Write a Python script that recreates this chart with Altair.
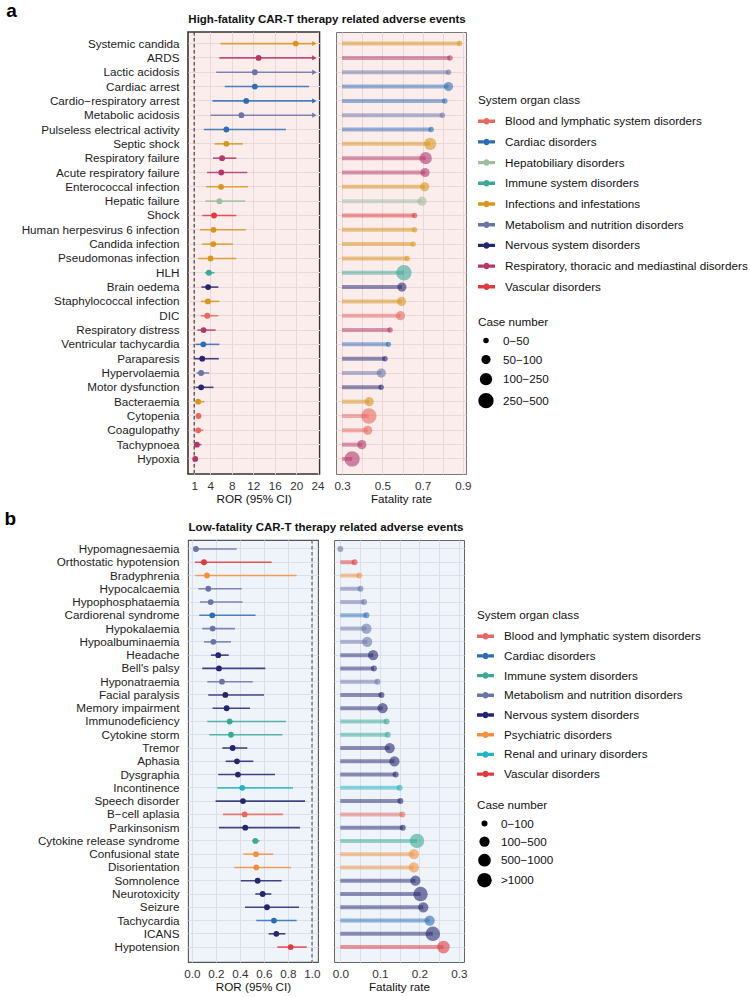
import altair as alt
import pandas as pd

FONT = "Liberation Sans"
FS = 11.7

BLOOD = "Blood and lymphatic system disorders"
CARD = "Cardiac disorders"
HEP = "Hepatobiliary disorders"
IMM = "Immune system disorders"
INF = "Infections and infestations"
MET = "Metabolism and nutrition disorders"
NERV = "Nervous system disorders"
PSY = "Psychiatric disorders"
REN = "Renal and urinary disorders"
RESP = "Respiratory, thoracic and mediastinal disorders"
VASC = "Vascular disorders"

SOC_COLOR = {BLOOD: "#E8685F", CARD: "#2E6DB4", HEP: "#9EBF9F", IMM: "#3AAA94",
             INF: "#D8961C", MET: "#6A74A6", NERV: "#26266E", PSY: "#F4913E",
             REN: "#25B3C6", RESP: "#B3376A", VASC: "#E03A3E"}

# ---------------- panel a : high-fatality ----------------
a_event = ["Systemic candida", "ARDS", "Lactic acidosis", "Cardiac arrest",
           "Cardio\u2212respiratory arrest", "Metabolic acidosis", "Pulseless electrical activity",
           "Septic shock", "Respiratory failure", "Acute respiratory failure", "Enterococcal infection",
           "Hepatic failure", "Shock", "Human herpesvirus 6 infection", "Candida infection",
           "Pseudomonas infection", "HLH", "Brain oedema", "Staphylococcal infection", "DIC",
           "Respiratory distress", "Ventricular tachycardia", "Paraparesis", "Hypervolaemia",
           "Motor dysfunction", "Bacteraemia", "Cytopenia", "Coagulopathy", "Tachypnoea", "Hypoxia"]
a_soc = [INF, RESP, MET, CARD, CARD, MET, CARD, INF, RESP, RESP, INF, HEP, VASC, INF, INF,
         INF, IMM, NERV, INF, BLOOD, RESP, CARD, NERV, MET, NERV, INF, BLOOD, BLOOD, RESP, RESP]
a_ror = [19.9, 13.0, 12.3, 12.3, 10.7, 9.8, 7.0, 7.0, 6.2, 6.05, 6.0, 5.7, 4.7, 4.6, 4.55,
         4.05, 3.75, 3.6, 3.55, 3.45, 2.75, 2.7, 2.5, 2.3, 2.3, 1.75, 1.8, 1.75, 1.5, 1.2]
a_lower = [5.9, 5.7, 5.1, 6.7, 4.4, 4.05, 2.8, 4.8, 4.5, 3.4, 3.25, 3.1, 2.5, 2.1, 2.5,
           1.75, 3.0, 2.35, 2.25, 2.2, 1.6, 1.25, 1.05, 1.45, 1.25, 1.25, 1.5, 1.25, 1.08, 1.1]
a_upper = [23.4, 23.4, 23.4, 22.4, 23.4, 23.4, 18.1, 10.1, 8.85, 10.9, 11.0, 10.5, 8.85, 10.6, 8.2,
           8.85, 4.8, 5.5, 5.7, 5.5, 5.0, 5.7, 5.6, 3.8, 4.6, 2.9, 2.25, 2.7, 2.35, 1.55]
a_trunc = [1, 1, 1, 0, 1, 1, 0, 0, 0, 0, 0, 0, 0, 0, 0,
           0, 0, 0, 0, 0, 0, 0, 0, 0, 0, 0, 0, 0, 0, 0]
a_fat = [0.883, 0.835, 0.828, 0.828, 0.81, 0.798, 0.742, 0.737, 0.715, 0.712, 0.71, 0.697, 0.66, 0.66,
         0.653, 0.623, 0.607, 0.597, 0.595, 0.59, 0.538, 0.53, 0.513, 0.495, 0.494, 0.435, 0.433,
         0.427, 0.398, 0.35]
a_size_levels = ["0\u221250", "50\u2212100", "100\u2212250", "250\u2212500"]
a_cases = [0, 0, 0, 1, 0, 0, 0, 2, 2, 1, 1, 1, 0, 0, 0,
           0, 3, 1, 1, 1, 0, 0, 0, 1, 0, 1, 3, 1, 1, 3]
a_soc_order = [BLOOD, CARD, HEP, IMM, INF, MET, NERV, RESP, VASC]
a_ror_ticks = [1, 4, 8, 12, 16, 20, 24]
a_fat_grid = [0.3, 0.4, 0.5, 0.6, 0.7, 0.8, 0.9]
a_fat_labels = ["0.3", "0.5", "0.7", "0.9"]

# ---------------- panel b : low-fatality ----------------
b_event = ["Hypomagnesaemia", "Orthostatic hypotension", "Bradyphrenia", "Hypocalcaemia",
           "Hypophosphataemia", "Cardiorenal syndrome", "Hypokalaemia", "Hypoalbuminaemia",
           "Headache", "Bell's palsy", "Hyponatraemia", "Facial paralysis", "Memory impairment",
           "Immunodeficiency", "Cytokine storm", "Tremor", "Aphasia", "Dysgraphia", "Incontinence",
           "Speech disorder", "B\u2212cell aplasia", "Parkinsonism", "Cytokine release syndrome",
           "Confusional state", "Disorientation", "Somnolence", "Neurotoxicity", "Seizure",
           "Tachycardia", "ICANS", "Hypotension"]
b_soc = [MET, VASC, PSY, MET, MET, CARD, MET, MET, NERV, NERV, MET, NERV, NERV, IMM, IMM, NERV,
         NERV, NERV, REN, NERV, BLOOD, NERV, IMM, PSY, PSY, NERV, NERV, NERV, CARD, NERV, VASC]
b_ror = [0.033, 0.10, 0.125, 0.136, 0.156, 0.169, 0.172, 0.178, 0.219, 0.225, 0.25, 0.278, 0.289,
         0.314, 0.325, 0.339, 0.375, 0.383, 0.419, 0.425, 0.439, 0.444, 0.528, 0.533, 0.536, 0.547,
         0.589, 0.625, 0.683, 0.703, 0.822]
b_lower = [0.017, 0.025, 0.028, 0.053, 0.067, 0.061, 0.086, 0.10, 0.158, 0.086, 0.128, 0.136, 0.172,
           0.128, 0.144, 0.253, 0.281, 0.219, 0.211, 0.197, 0.258, 0.225, 0.503, 0.428, 0.353, 0.406,
           0.528, 0.442, 0.536, 0.639, 0.711]
b_upper = [0.372, 0.664, 0.872, 0.414, 0.422, 0.53, 0.358, 0.325, 0.306, 0.611, 0.506, 0.60, 0.483,
           0.783, 0.753, 0.461, 0.511, 0.692, 0.842, 0.942, 0.758, 0.90, 0.564, 0.678, 0.825, 0.747,
           0.661, 0.892, 0.872, 0.778, 0.956]
b_trunc = [0] * 31
b_fat = [0.0, 0.036, 0.048, 0.051, 0.06, 0.066, 0.066, 0.068, 0.083, 0.085, 0.094, 0.104, 0.107,
         0.117, 0.12, 0.125, 0.137, 0.14, 0.15, 0.152, 0.157, 0.158, 0.194, 0.186, 0.186, 0.19,
         0.203, 0.21, 0.226, 0.234, 0.261]
b_size_levels = ["0\u2212100", "100\u2212500", "500\u22121000", ">1000"]
b_cases = [0, 0, 0, 0, 0, 0, 1, 1, 1, 0, 0, 0, 1, 0, 0, 1, 1, 0, 0, 0, 0, 0, 3, 1, 1, 1,
           3, 1, 1, 3, 2]
b_soc_order = [BLOOD, CARD, IMM, MET, NERV, PSY, REN, VASC]
b_ror_ticks = [0.0, 0.2, 0.4, 0.6, 0.8, 1.0]
b_fat_grid = [0.0, 0.05, 0.1, 0.15, 0.2, 0.25, 0.3]
b_fat_labels = ["0.0", "0.1", "0.2", "0.3"]

LEGEND_PATH = ("M-1,-0.2L-0.36,-0.2L-0.36,0.2L-1,0.2Z M0.36,-0.2L1,-0.2L1,0.2L0.36,0.2Z "
               "M0.38,0A0.38,0.38,0,1,1,-0.38,0A0.38,0.38,0,1,1,0.38,0Z")


def make_row(event, soc, ror, lower, upper, trunc, fat, cases, size_levels, size_range,
             soc_order, ror_dom, ror_ticks, ror_fmt, ref_val, ref_color,
             fat_dom, fat_grid, fat_labels, fat_base, title, bg, grid,
             left_stroke, left_sw, right_stroke, height, w_left, w_right, y_pad, y_align,
             leg_x, leg_cy, leg_sy, row_pad, size_row_pad, label, y_extent, dx):
    df = pd.DataFrame({"event": event, "soc": soc, "ror": ror, "lower": lower, "upper": upper,
                       "trunc": trunc, "fat": fat,
                       "cases": [size_levels[i] for i in cases],
                       "base": [fat_base] * len(event)})
    ysc = alt.Scale(padding=y_pad, align=y_align)
    y_left = alt.Y("event:N", sort=event, scale=ysc,
                   axis=alt.Axis(title=None, ticks=False, domain=False, labelPadding=9,
                                 minExtent=y_extent, maxExtent=y_extent, labelLimit=260,
                                 grid=True, gridColor=grid, gridWidth=1,
                                 labelColor="#222222"))
    y_right = alt.Y("event:N", sort=event, scale=ysc,
                    axis=alt.Axis(title=None, ticks=False, domain=False, labels=False,
                                  grid=True, gridColor=grid, gridWidth=1))
    color_scale = alt.Scale(domain=soc_order, range=[SOC_COLOR[s] for s in soc_order])
    color_nolegend = alt.Color("soc:N", scale=color_scale, legend=None)
    color_legend = alt.Color("soc:N", scale=color_scale, legend=alt.Legend(
        title="System organ class", orient="none", direction="vertical",
        legendX=leg_x, legendY=leg_cy, symbolType=LEGEND_PATH, symbolSize=289,
        symbolStrokeWidth=0, symbolOpacity=1, labelLimit=330, rowPadding=row_pad,
        titlePadding=6, labelOffset=10, labelFontSize=FS, titleFontSize=FS,
        titleFontWeight="normal", labelFont=FONT, titleFont=FONT,
        labelColor="#111111", titleColor="#111111"))

    xs = alt.Scale(domain=ror_dom, nice=False, zero=False)
    xa = alt.Axis(values=ror_ticks, format=ror_fmt, title="ROR (95% CI)", grid=True,
                  gridColor=grid, ticks=False, domain=False, labelPadding=6, titlePadding=2,
                  labelOverlap=False, labelFlush=False)
    ref = alt.Chart(pd.DataFrame({"ref": [ref_val]})).mark_rule(
        strokeDash=[3.5, 2.5], color=ref_color, strokeWidth=1.1).encode(
        x=alt.X("ref:Q", scale=xs, axis=xa))
    base = alt.Chart(df)
    # first colour-bearing layer carries the legend (invisible marks)
    carrier = base.mark_circle(size=34, opacity=0).encode(
        x=alt.X("ror:Q", scale=xs, axis=xa), y=y_left, color=color_legend)
    err = base.mark_rule(strokeWidth=1.6, opacity=0.85).encode(
        x=alt.X("lower:Q", scale=xs, axis=xa), x2="upper:Q", y=y_left, color=color_nolegend)
    arrow = base.transform_filter("datum.trunc == 1").mark_point(
        shape="triangle-right", filled=True, size=28, opacity=0.9).encode(
        x=alt.X("upper:Q", scale=xs, axis=xa), y=y_left, color=color_nolegend)
    pts = base.mark_circle(size=34, opacity=1).encode(
        x=alt.X("ror:Q", scale=xs, axis=xa), y=y_left, color=color_nolegend)
    left = alt.layer(ref, carrier, err, arrow, pts).properties(
        width=w_left, height=height,
        view=alt.ViewBackground(fill=bg, stroke=left_stroke, strokeWidth=left_sw),
        title=alt.TitleParams(title, anchor="start", frame="group", align="center", dx=dx,
                              fontSize=11.5, fontWeight="bold", font=FONT, color="#111111",
                              offset=6))

    fxs = alt.Scale(domain=fat_dom, nice=False, zero=False)
    fxa = alt.Axis(values=fat_grid, title="Fatality rate", grid=True, gridColor=grid,
                   ticks=False, domain=False, labelPadding=6, titlePadding=2,
                   labelOverlap=False, labelFlush=False,
                   labelExpr="indexof(%s, format(datum.value, '.2f')) >= 0 ? format(datum.value, '.1f') : ''"
                   % str([l + "0" for l in fat_labels]))
    stem = base.mark_rule(strokeWidth=4, opacity=0.5).encode(
        x=alt.X("fat:Q", scale=fxs, axis=fxa), x2="base:Q", y=y_right, color=color_nolegend)
    dot = base.mark_circle(opacity=0.6).encode(
        x=alt.X("fat:Q", scale=fxs, axis=fxa), y=y_right, color=color_nolegend,
        size=alt.Size("cases:N", scale=alt.Scale(type="ordinal", domain=size_levels, range=size_range),
                      legend=alt.Legend(title="Case number", orient="none", direction="vertical",
                                        legendX=leg_x, legendY=leg_sy, symbolFillColor="#000000",
                                        symbolStrokeColor="#000000", symbolStrokeWidth=0,
                                        symbolOpacity=1, symbolType="circle", rowPadding=size_row_pad,
                                        titlePadding=6, labelOffset=9, labelFontSize=FS,
                                        titleFontSize=FS, titleFontWeight="normal", labelFont=FONT,
                                        titleFont=FONT, labelColor="#111111", titleColor="#111111")))
    right = alt.layer(stem, dot).properties(
        width=w_right, height=height,
        view=alt.ViewBackground(fill=bg, stroke=right_stroke, strokeWidth=1))

    return alt.hconcat(left, right, spacing=16, bounds="flush").properties(
        title=alt.TitleParams(label, anchor="start", frame="bounds", fontSize=19, fontWeight="bold",
                              font=FONT, color="#000000", offset=-8))


row_a = make_row(a_event, a_soc, a_ror, a_lower, a_upper, a_trunc, a_fat, a_cases, a_size_levels,
                 [30, 85, 150, 235], a_soc_order, [-0.15, 24.35], a_ror_ticks, "d", 1, "#333333",
                 [0.27, 0.915], a_fat_grid, a_fat_labels, 0.3,
                 "High-fatality CAR-T therapy related adverse events", "#FCEDED", "#E9D7D9",
                 "#333333", 1.6, "#777777", 442, 131.5, 130, 0.86, 0.43,
                 290, 63, 285, 4.7, 6, "a", 181, 139)
row_b = make_row(b_event, b_soc, b_ror, b_lower, b_upper, b_trunc, b_fat, b_cases, b_size_levels,
                 [36, 105, 160, 210], b_soc_order, [-0.033, 1.05], b_ror_ticks, ".1f", 1.0, "#555555",
                 [-0.016, 0.313], b_fat_grid, b_fat_labels, 0.0,
                 "Low-fatality CAR-T therapy related adverse events", "#EFF4FB", "#D9E0EC",
                 "#555555", 1.1, "#666666", 422, 130, 130, 0.8, 0.36,
                 289, 70, 260, 3.7, 5, "b", 183, 138)

chart = alt.vconcat(row_a, row_b, spacing=3).resolve_scale(
    color="independent", size="independent").resolve_legend(
    color="independent", size="independent").properties(
    padding={"left": 4, "top": 2, "right": 0, "bottom": 0}, background="white").configure(
    font=FONT).configure_axis(
    labelFont=FONT, titleFont=FONT, labelFontSize=FS, titleFontSize=FS, labelOverlap=False,
    labelColor="#333333", titleColor="#111111", titleFontWeight="normal").configure_view(
    continuousWidth=130)

chart.save("out.html", embed_options={"renderer": "svg", "actions": False})
